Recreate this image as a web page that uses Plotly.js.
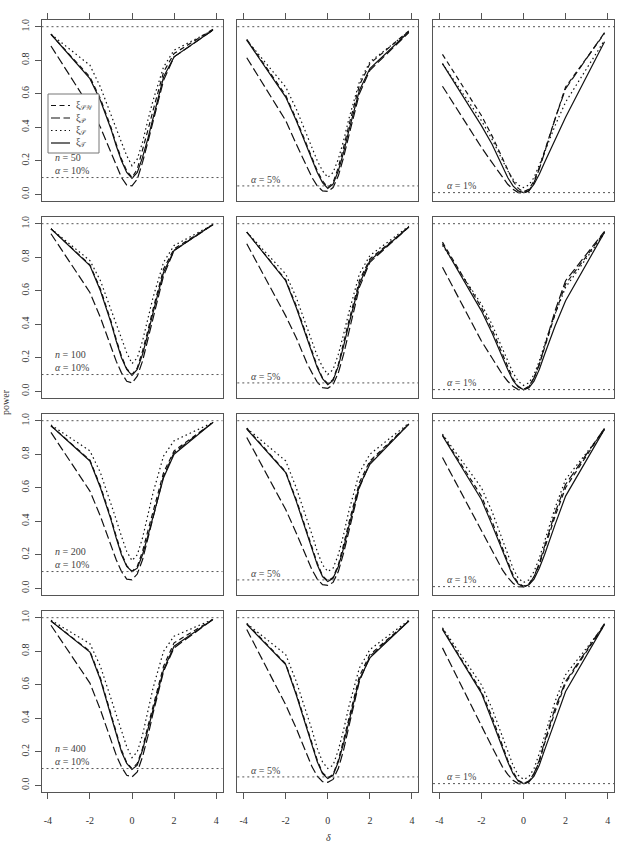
<!DOCTYPE html>
<html><head><meta charset="utf-8">
<script src="https://cdn.plot.ly/plotly-3.0.1.min.js"></script>
<style>html,body{margin:0;padding:0;background:#fff}#plot{width:620px;height:844px}</style>
</head><body><div id="plot"></div>
<script>
// delta grid
const delta = [-3.85,-2,-1.5,-1,-0.75,-0.5,-0.25,0,0.25,0.5,0.75,1,1.5,2,3.85];
const sampleSizes = [50,100,200,400];
const alphas = [0.10,0.05,0.01];
const alphaLabels = ["10%","5%","1%"];
const xTickVals = [-4,-2,0,2,4];
const xTickText = ["-4","-2","0","2","4"];
const yTickVals = [0,0.2,0.4,0.6,0.8,1.0];
const yTickText = ["0.0","0.2","0.4","0.6","0.8","1.0"];
const seriesNames = ["ξ<sub>𝒮𝒲</sub>","ξ<sub>𝒫</sub>","ξ<sub>𝒮</sub>","ξ<sub>𝒯</sub>"];

// power curves, panels in order: n=50(10%,5%,1%), n=100(...), n=200(...), n=400(...)
const xiSW = [
 [0.955,0.70,0.57,0.40,0.30,0.21,0.14,0.10,0.15,0.26,0.38,0.50,0.73,0.84,0.985],
 [0.925,0.59,0.45,0.30,0.22,0.14,0.08,0.04,0.07,0.16,0.28,0.41,0.65,0.78,0.975],
 [0.835,0.47,0.35,0.21,0.14,0.08,0.035,0.015,0.03,0.08,0.16,0.26,0.45,0.64,0.96],
 [0.97,0.755,0.61,0.42,0.31,0.21,0.135,0.10,0.14,0.24,0.36,0.49,0.73,0.85,0.995],
 [0.95,0.665,0.51,0.33,0.24,0.15,0.08,0.045,0.07,0.16,0.29,0.42,0.66,0.79,0.98],
 [0.89,0.50,0.37,0.22,0.14,0.075,0.03,0.012,0.03,0.08,0.16,0.26,0.46,0.64,0.95],
 [0.97,0.765,0.61,0.42,0.31,0.21,0.135,0.10,0.13,0.22,0.34,0.46,0.69,0.82,0.99],
 [0.955,0.695,0.53,0.34,0.24,0.15,0.075,0.045,0.065,0.14,0.26,0.39,0.63,0.76,0.98],
 [0.915,0.55,0.40,0.24,0.15,0.08,0.03,0.012,0.025,0.07,0.14,0.24,0.43,0.60,0.955],
 [0.98,0.80,0.64,0.43,0.32,0.21,0.135,0.10,0.13,0.22,0.35,0.47,0.71,0.85,0.99],
 [0.965,0.725,0.55,0.35,0.25,0.15,0.075,0.045,0.065,0.15,0.27,0.40,0.65,0.78,0.98],
 [0.935,0.56,0.41,0.24,0.15,0.08,0.03,0.012,0.025,0.07,0.14,0.25,0.44,0.61,0.96]
];
const xiP = [
 [0.885,0.52,0.40,0.25,0.17,0.10,0.055,0.05,0.09,0.19,0.31,0.43,0.68,0.82,0.98],
 [0.815,0.44,0.30,0.16,0.10,0.05,0.02,0.017,0.04,0.11,0.22,0.35,0.60,0.74,0.965],
 [0.645,0.28,0.19,0.10,0.06,0.03,0.01,0.008,0.02,0.07,0.15,0.25,0.45,0.63,0.965],
 [0.94,0.59,0.44,0.27,0.18,0.11,0.06,0.05,0.09,0.18,0.31,0.44,0.69,0.84,0.995],
 [0.88,0.45,0.32,0.17,0.11,0.055,0.022,0.018,0.04,0.11,0.22,0.36,0.62,0.77,0.98],
 [0.74,0.30,0.20,0.10,0.06,0.03,0.01,0.008,0.025,0.08,0.16,0.27,0.48,0.66,0.955],
 [0.93,0.58,0.43,0.26,0.17,0.10,0.055,0.05,0.085,0.17,0.29,0.42,0.67,0.81,0.99],
 [0.90,0.47,0.33,0.18,0.11,0.055,0.022,0.018,0.035,0.10,0.21,0.34,0.60,0.75,0.98],
 [0.78,0.35,0.23,0.11,0.065,0.03,0.01,0.008,0.02,0.07,0.15,0.25,0.45,0.62,0.955],
 [0.955,0.61,0.45,0.27,0.18,0.11,0.06,0.05,0.08,0.17,0.29,0.43,0.68,0.82,0.99],
 [0.93,0.48,0.34,0.18,0.11,0.055,0.022,0.018,0.035,0.10,0.21,0.35,0.62,0.77,0.98],
 [0.82,0.35,0.23,0.11,0.065,0.03,0.01,0.008,0.02,0.07,0.15,0.26,0.46,0.62,0.965]
];
const xiS = [
 [0.955,0.77,0.64,0.47,0.39,0.31,0.23,0.17,0.21,0.31,0.44,0.56,0.76,0.86,0.98],
 [0.92,0.64,0.51,0.36,0.28,0.20,0.14,0.10,0.13,0.21,0.32,0.45,0.67,0.79,0.97],
 [0.78,0.44,0.33,0.20,0.14,0.09,0.055,0.04,0.055,0.10,0.17,0.25,0.41,0.55,0.92],
 [0.97,0.78,0.66,0.49,0.40,0.31,0.23,0.165,0.20,0.30,0.43,0.56,0.77,0.87,0.995],
 [0.95,0.70,0.56,0.39,0.30,0.21,0.145,0.10,0.13,0.22,0.34,0.47,0.70,0.81,0.985],
 [0.87,0.52,0.40,0.25,0.18,0.11,0.06,0.035,0.05,0.10,0.18,0.28,0.46,0.62,0.945],
 [0.975,0.82,0.69,0.51,0.41,0.31,0.22,0.165,0.20,0.30,0.43,0.57,0.79,0.88,0.99],
 [0.955,0.76,0.60,0.42,0.32,0.22,0.14,0.10,0.12,0.20,0.32,0.46,0.69,0.80,0.985],
 [0.92,0.60,0.46,0.29,0.20,0.12,0.06,0.035,0.05,0.10,0.18,0.28,0.48,0.65,0.945],
 [0.985,0.845,0.71,0.52,0.42,0.32,0.23,0.165,0.20,0.30,0.44,0.58,0.80,0.89,0.99],
 [0.965,0.78,0.62,0.43,0.33,0.22,0.14,0.10,0.12,0.21,0.33,0.47,0.70,0.81,0.985],
 [0.94,0.60,0.46,0.29,0.20,0.12,0.06,0.035,0.05,0.10,0.19,0.29,0.50,0.66,0.955]
];
const xiT = [
 [0.955,0.69,0.56,0.39,0.29,0.20,0.13,0.095,0.13,0.22,0.33,0.45,0.70,0.82,0.98],
 [0.92,0.58,0.44,0.29,0.21,0.13,0.07,0.035,0.06,0.14,0.25,0.38,0.62,0.75,0.97],
 [0.78,0.41,0.30,0.16,0.10,0.05,0.02,0.01,0.02,0.06,0.12,0.19,0.33,0.46,0.91],
 [0.97,0.75,0.60,0.41,0.30,0.20,0.13,0.095,0.13,0.22,0.34,0.47,0.71,0.84,0.995],
 [0.95,0.66,0.50,0.32,0.23,0.14,0.075,0.04,0.065,0.15,0.27,0.40,0.64,0.78,0.98],
 [0.88,0.48,0.35,0.20,0.13,0.065,0.025,0.01,0.02,0.06,0.13,0.22,0.39,0.54,0.95],
 [0.97,0.76,0.60,0.41,0.30,0.20,0.13,0.10,0.12,0.20,0.31,0.43,0.66,0.80,0.99],
 [0.95,0.69,0.52,0.33,0.23,0.14,0.07,0.04,0.06,0.13,0.24,0.37,0.61,0.74,0.98],
 [0.91,0.53,0.38,0.22,0.14,0.07,0.025,0.01,0.02,0.055,0.12,0.20,0.38,0.55,0.95],
 [0.98,0.795,0.63,0.42,0.31,0.20,0.13,0.095,0.12,0.21,0.33,0.45,0.69,0.83,0.99],
 [0.96,0.72,0.54,0.34,0.24,0.14,0.07,0.04,0.06,0.14,0.25,0.38,0.63,0.76,0.98],
 [0.93,0.55,0.39,0.22,0.14,0.07,0.025,0.01,0.02,0.055,0.12,0.21,0.39,0.56,0.96]
];

const FONT = "Liberation Serif, DejaVu Serif, serif";
const W = 620, H = 844;
const colLeft = [41.5, 237.3, 433];
const rowTop = [20, 217, 414, 611];
const PW = 181, PH = 181;
const dashes = ["5px,3.5px","9px,3.5px","1.5px,3px","solid"];
const allSeries = [xiSW, xiP, xiS, xiT];
const px = v => v/W, py = v => 1 - v/H;

const traces = [];
const layout = {
  width: W, height: H, margin:{l:0,r:0,t:0,b:0},
  paper_bgcolor:"#fff", plot_bgcolor:"#fff",
  font:{family:FONT, size:10, color:"#333"},
  showlegend:false,
  shapes:[], annotations:[]
};

for (let r=0;r<4;r++){
  for (let c=0;c<3;c++){
    const i = r*3+c;
    const id = i===0 ? "" : String(i+1);
    const xa = "x"+id, ya = "y"+id;
    for (let s=0;s<4;s++){
      traces.push({
        x: delta, y: allSeries[s][i], xaxis:xa, yaxis:ya, mode:"lines",
        name: seriesNames[s], hoverinfo:"skip",
        line:{color:"#111", width:1.2, dash:dashes[s]}
      });
    }
    const xd = [px(colLeft[c]), px(colLeft[c]+PW)];
    const yd = [py(rowTop[r]+PH), py(rowTop[r])];
    const xaxis = {
      domain:xd, anchor:ya, range:[-4.3,4.3], showgrid:false, zeroline:false,
      showline:true, mirror:true, linecolor:"#555", linewidth:1,
      tickvals:xTickVals, ticktext:xTickText, tickfont:{family:FONT,size:10,color:"#333"},
      ticks:"", showticklabels:false, automargin:false
    };
    if (r===0){ xaxis.side="top"; xaxis.ticks="outside"; xaxis.ticklen=6; xaxis.tickcolor="#555"; }
    if (r===3){ xaxis.ticks="outside"; xaxis.ticklen=6; xaxis.tickcolor="#555"; xaxis.showticklabels=true; xaxis.ticklabelstandoff=13; }
    const yaxis = {
      domain:yd, anchor:xa, range:[-0.04,1.04], showgrid:false, zeroline:false,
      showline:true, mirror:true, linecolor:"#555", linewidth:1,
      tickvals:yTickVals, ticktext:yTickText, tickfont:{family:FONT,size:10,color:"#333"},
      ticks:"", showticklabels:false, automargin:false
    };
    if (c===0){ yaxis.ticks="outside"; yaxis.ticklen=6; yaxis.tickcolor="#555"; yaxis.showticklabels=true; yaxis.tickangle=-90; yaxis.ticklabelstandoff=2; }
    layout["xaxis"+id] = xaxis;
    layout["yaxis"+id] = yaxis;
    // reference lines at power 1 and at alpha
    [1, alphas[c]].forEach(v=>{
      layout.shapes.push({type:"line", xref:xa+" domain", yref:ya, x0:0, x1:1, y0:v, y1:v,
        line:{color:"#555", width:1, dash:"2px,3px"}});
    });
    if (c===0){
      layout.annotations.push({xref:xa, yref:ya, x:-3.75, y:alphas[c]+0.078, xanchor:"left", yanchor:"middle", align:"left",
        text:"<i>n</i> = "+sampleSizes[r]+"<br><i>α</i> = "+alphaLabels[c], showarrow:false,
        font:{family:FONT,size:10,color:"#444"}});
    } else {
      layout.annotations.push({xref:xa, yref:ya, x:-3.75, y:alphas[c]+0.04, xanchor:"left", yanchor:"middle",
        text:"<i>α</i> = "+alphaLabels[c], showarrow:false, font:{family:FONT,size:10,color:"#444"}});
    }
  }
}

// legend box (top-left panel)
layout.shapes.push({type:"rect", xref:"paper", yref:"paper", x0:px(48), x1:px(99), y0:py(153), y1:py(94),
  fillcolor:"#fff", line:{color:"#777", width:1}, layer:"above"});
const legY = [105.5, 118, 130.5, 143];
for (let s=0;s<4;s++){
  layout.shapes.push({type:"line", xref:"paper", yref:"paper", x0:px(51), x1:px(70), y0:py(legY[s]), y1:py(legY[s]),
    line:{color:"#111", width:1.2, dash:dashes[s]}, layer:"above"});
  layout.annotations.push({xref:"paper", yref:"paper", x:px(74), y:py(legY[s]), xanchor:"left", yanchor:"middle",
    text:seriesNames[s], showarrow:false, font:{family:FONT,size:10,color:"#444"}});
}

layout.annotations.push({xref:"paper", yref:"paper", x:px(328), y:py(837), xanchor:"center", yanchor:"middle",
  text:"<i>δ</i>", showarrow:false, font:{family:FONT,size:10,color:"#333"}});
layout.annotations.push({xref:"paper", yref:"paper", x:px(5), y:py(402), xanchor:"center", yanchor:"middle",
  text:"power", textangle:-90, showarrow:false, font:{family:FONT,size:10,color:"#333"}});

Plotly.newPlot("plot", traces, layout, {staticPlot:true, displayModeBar:false});
</script></body></html>
